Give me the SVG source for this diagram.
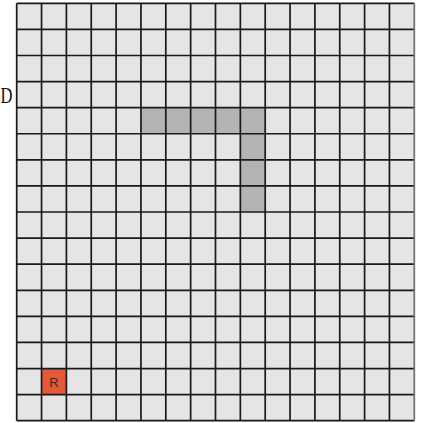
<svg xmlns="http://www.w3.org/2000/svg" width="421" height="423" viewBox="0 0 421 423">
<style>
.cell{fill:#e5e5e5}
.wall{fill:#b3b3b3}
.line{stroke:#1a1a1a;stroke-width:1.7}
</style>
<rect width="421" height="423" fill="#ffffff"/>
<rect x="16.7" y="3.3" width="397.6" height="417.4" class="cell"/>
<g id="walls">
<rect class="wall" x="140.95" y="107.66" width="124.25" height="26.09"/>
<rect class="wall" x="240.35" y="133.75" width="24.85" height="78.27"/>
</g>
<g id="robot">
<rect x="41.55" y="368.56" width="24.85" height="26.09" fill="#e35a3b"/>
<text x="54" y="387" font-family="Liberation Sans, Arial, sans-serif" font-size="13" fill="#4a2418" text-anchor="middle">R</text>
</g>
<g id="gridlines" class="line">
<path d="M16.7 3.3V420.7M41.55 3.3V420.7M66.4 3.3V420.7M91.25 3.3V420.7M116.1 3.3V420.7M140.95 3.3V420.7M165.8 3.3V420.7M190.65 3.3V420.7M215.5 3.3V420.7M240.35 3.3V420.7M265.2 3.3V420.7M290.05 3.3V420.7M314.9 3.3V420.7M339.75 3.3V420.7M364.6 3.3V420.7M389.45 3.3V420.7"/>
<path d="M16.7 3.3H414.3M16.7 29.39H414.3M16.7 55.48H414.3M16.7 81.57H414.3M16.7 107.66H414.3M16.7 133.75H414.3M16.7 159.84H414.3M16.7 185.93H414.3M16.7 212.02H414.3M16.7 238.11H414.3M16.7 264.2H414.3M16.7 290.29H414.3M16.7 316.38H414.3M16.7 342.47H414.3M16.7 368.56H414.3M16.7 394.65H414.3M16.7 420.7H414.3"/>
</g>
<line x1="414.3" y1="3.3" x2="414.3" y2="420.7" stroke="#6e6e6e" stroke-width="1.7"/>
<text transform="translate(0.5 102.5) scale(0.72 1)" x="0" y="0" font-family="Liberation Serif, Times New Roman, serif" font-size="23" fill="#111">D</text>
</svg>
